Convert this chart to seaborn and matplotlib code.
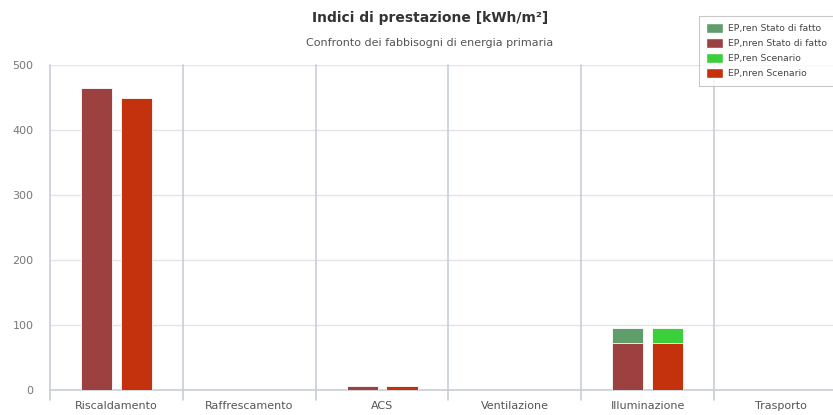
import matplotlib
matplotlib.use("Agg")
import matplotlib.pyplot as plt
from matplotlib.patches import Patch
import seaborn as sns
import pandas as pd

categories = ["Riscaldamento", "Raffrescamento", "ACS", "Ventilazione", "Illuminazione", "Trasporto"]
scenarios = ["Stato di fatto", "Scenario"]
nren_stato = [465, 0, 6, 0, 72, 0]
ren_stato = [0, 0, 0, 0, 23, 0]
nren_scen = [450, 0, 6, 0, 72, 0]
ren_scen = [0, 0, 0, 0, 23, 0]
yticks = [0, 100, 200, 300, 400, 500]

green_sdf, red_sdf = "#5f9e6b", "#9c4040"
green_scn, red_scn = "#3ccf3c", "#c3320c"

rows = []
for i, c in enumerate(categories):
    rows.append({"cat": c, "scen": scenarios[0], "nren": nren_stato[i], "tot": nren_stato[i] + ren_stato[i]})
    rows.append({"cat": c, "scen": scenarios[1], "nren": nren_scen[i], "tot": nren_scen[i] + ren_scen[i]})
df = pd.DataFrame(rows)

sns.set_style("white")
plt.rcParams["font.family"] = ["DejaVu Sans"]

fig = plt.figure(figsize=(8.33, 4.15), dpi=100)
ax = fig.add_axes([50 / 833, 1 - 390 / 415, 797 / 833, 325 / 415])

# stacked bars: full height (ren on top) first, then the nren part over it
sns.barplot(data=df, x="cat", y="tot", hue="scen", order=categories, hue_order=scenarios,
            palette=[green_sdf, green_scn], saturation=1, width=0.6, gap=0.22, ax=ax,
            edgecolor="white", linewidth=0.6, legend=False, errorbar=None, zorder=3)
sns.barplot(data=df, x="cat", y="nren", hue="scen", order=categories, hue_order=scenarios,
            palette=[red_sdf, red_scn], saturation=1, width=0.6, gap=0.22, ax=ax,
            edgecolor="white", linewidth=0.6, legend=False, errorbar=None, zorder=4)

ax.set_xlim(-0.5, len(categories) - 0.5)
ax.set_ylim(0, 500)
ax.set_yticks(yticks)
ax.set_xlabel("")
ax.set_ylabel("")

ax.grid(axis="y", color="#e4e4e4", linewidth=1, zorder=0)
for b in range(len(categories)):
    ax.axvline(b - 0.5, color="#c8cdd6", linewidth=1.2, zorder=1, ymin=-0.03, clip_on=False)

for s in ["top", "right", "left"]:
    ax.spines[s].set_visible(False)
ax.spines["bottom"].set_color("#c8cdd6")
ax.spines["bottom"].set_linewidth(1.2)
ax.tick_params(axis="both", length=0, colors="#555555", labelsize=8)
ax.tick_params(axis="y", pad=12)
ax.tick_params(axis="x", pad=8)
for t in ax.get_yticklabels():
    t.set_color("#777777")

fig.text(430 / 833, 1 - 18 / 415, "Indici di prestazione [kWh/m²]", ha="center", va="center",
         fontsize=10, fontweight="bold", color="#333333")
fig.text(430 / 833, 1 - 43 / 415, "Confronto dei fabbisogni di energia primaria", ha="center",
         va="center", fontsize=8, color="#555555")

handles = [Patch(facecolor=green_sdf, label="EP,ren Stato di fatto"),
           Patch(facecolor=red_sdf, label="EP,nren Stato di fatto"),
           Patch(facecolor=green_scn, label="EP,ren Scenario"),
           Patch(facecolor=red_scn, label="EP,nren Scenario")]
leg = fig.legend(handles=handles, loc="upper left", bbox_to_anchor=(694 / 833, 1 - 11 / 415),
                 fontsize=6.7, frameon=True, fancybox=False, handlelength=1.8, handleheight=1.2,
                 labelspacing=0.55, handletextpad=0.5, borderpad=0.8, labelcolor="#444444")
leg.get_frame().set_edgecolor("#bbbbbb")
leg.get_frame().set_linewidth(0.8)

fig.savefig("out.png", dpi=100)
